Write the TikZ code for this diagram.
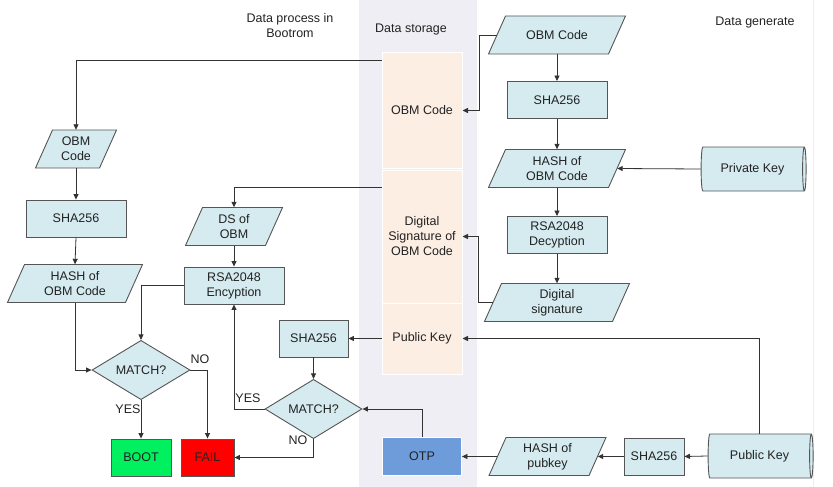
\documentclass[tikz,border=0pt]{standalone}
\usepackage{fontspec}
\setmainfont{Liberation Sans}
\usetikzlibrary{shapes.geometric,arrows.meta}
\definecolor{lb}{HTML}{D5EBF0}
\definecolor{bd}{HTML}{555555}
\definecolor{ln}{HTML}{333333}
\definecolor{strip}{HTML}{EFEEF4}
\definecolor{peach}{HTML}{FDEEE4}
\definecolor{otpc}{HTML}{6E9CDA}
\definecolor{bootc}{HTML}{00F060}
\definecolor{failc}{HTML}{FF0000}
\definecolor{tx}{HTML}{222222}
\tikzset{
  every node/.style={font=\fontsize{12.5}{15}\selectfont, text=tx, align=center},
  boxn/.style={draw=bd, fill=lb, line width=0.9pt, minimum width=100pt, minimum height=37pt, inner sep=0pt},
  pshape/.style={draw=bd, fill=lb, line width=0.9pt},
  ptext/.style={minimum height=38pt, inner sep=0pt},
  dia/.style={shape=diamond, draw=bd, fill=lb, line width=0.9pt, minimum width=98pt, minimum height=56pt, inner sep=0pt},
  cyl/.style={shape=cylinder, draw=bd, fill=lb, line width=0.9pt, aspect=0.3, minimum height=105pt, minimum width=44pt, inner sep=0pt},
  stbox/.style={draw=white, line width=1pt, fill=peach, minimum width=80pt, inner sep=0pt},
  arr/.style={draw=ln, line width=0.8pt, -{Triangle[length=5.5pt,width=5pt]}},
  lbl/.style={inner sep=0pt}
}
\newcommand\para[5]{%
  \draw[pshape] ({#2-#4/2-8.5},{#3+19}) -- ({#2+#4/2-8.5},{#3+19}) -- ({#2+#4/2+8.5},{#3-19}) -- ({#2-#4/2+8.5},{#3-19}) -- cycle;
  \node[ptext, minimum width=#4] (#1) at (#2,#3) {#5};}
\begin{document}
\begin{tikzpicture}[x=1pt,y=-1pt]
\useasboundingbox (0,0) rectangle (833,487);
% storage strip
\fill[strip] (359,0) rectangle (477,487);
\draw[white!93!black, line width=0.6pt] (813,0) -- (813,487);
% headers
\node (h1) at (290,26) {Data process in\\Bootrom};
\node (h2) at (411,29) {Data storage};
\node (h3) at (755,22) {Data generate};
% storage boxes
\node[stbox, minimum height=115pt] (stobm) at (422,110.5) {OBM Code};
\node[stbox, minimum height=133pt] (stds) at (422,236.5) {Digital\\Signature of\\OBM Code};
\node[stbox, minimum height=71pt] (stpk) at (422,338.5) {Public Key};
\node[draw=white, line width=0.8pt, fill=otpc, minimum width=79pt, minimum height=38pt, inner sep=0pt] (otp) at (422,456.5) {OTP};
% right column
\para{robm}{557}{35}{120}{OBM Code}
\node[boxn] (rsha) at (557,100) {SHA256};
\para{rhash}{557}{168.5}{120}{HASH of\\OBM Code}
\node[boxn] (dec) at (557,235) {RSA2048\\Decyption};
\para{dsig}{557}{302.5}{128}{Digital\\signature}
\node[cyl] (priv) at (752.5,169) {Private Key};
\node[cyl] (pub) at (759.5,456) {Public Key};
\node[boxn, minimum width=60pt] (bsha) at (654,456.5) {SHA256};
\para{phash}{547.5}{456.5}{100}{HASH of\\pubkey}
% left column
\para{lobm}{76}{149}{64}{OBM\\Code}
\node[boxn] (lsha) at (76,218.5) {SHA256};
\para{lhash}{75}{283.5}{118}{HASH of\\OBM Code}
\node[dia] (lmatch) at (141,370) {MATCH?};
\node[boxn, minimum width=60pt, fill=bootc] (boot) at (141,457.5) {BOOT};
\node[boxn, minimum width=53pt, fill=failc] (fail) at (207.5,457.5) {FAIL};
% middle column
\para{ds}{234}{226.5}{80}{DS of\\OBM}
\node[boxn] (enc) at (234,285.5) {RSA2048\\Encyption};
\node[boxn, minimum width=69pt] (msha) at (313.5,338.5) {SHA256};
\node[dia, minimum width=97pt] (mmatch) at (313.5,409) {MATCH?};
% connectors right
\draw[arr] (robm.west) -- ++(-17,0) |- (stobm.east);
\draw[arr] (robm.south) -- (rsha.north);
\draw[arr] (rsha.south) -- (rhash.north);
\draw[arr] (rhash.south) -- (dec.north);
\draw[arr] (dec.south) -- (dsig.north);
\draw[arr] (priv.west) -- (rhash.east);
\draw[arr] (dsig.west) -- ++(-14,0) |- (stds.east);
\draw[arr] (pub.north) |- (stpk.east);
\draw[arr] (pub.west) -- (bsha.east);
\draw[arr] (bsha.west) -- (phash.east);
\draw[arr] (phash.west) -- (otp.east);
% connectors left
\draw[arr] ([yshift=-8pt]stobm.north west) -| (lobm.north);
\draw[arr] (lobm.south) -- (lsha.north);
\draw[arr] (lsha.south) -- (lhash.north);
\draw[arr] (lhash.south) |- (lmatch.west);
\draw[arr] ([yshift=-18pt]stds.north west) -| (ds.north);
\draw[arr] (ds.south) -- (enc.north);
\draw[arr] (enc.west) -| (lmatch.north);
\draw[arr] (lmatch.south) -- (boot.north);
\draw[arr] (lmatch.east) -| (fail.north);
\draw[arr] (stpk.west) -- (msha.east);
\draw[arr] (msha.south) -- (mmatch.north);
\draw[arr] (mmatch.west) -| (enc.south);
\draw[arr] (mmatch.south) |- (fail.east);
\draw[arr] (otp.north) |- (mmatch.east);
% labels
\node[lbl] (y1) at (128,409) {YES};
\node[lbl] (n1) at (200,359) {NO};
\node[lbl] (y2) at (248,398) {YES};
\node[lbl] (n2) at (298,440) {NO};
\end{tikzpicture}
\end{document}
